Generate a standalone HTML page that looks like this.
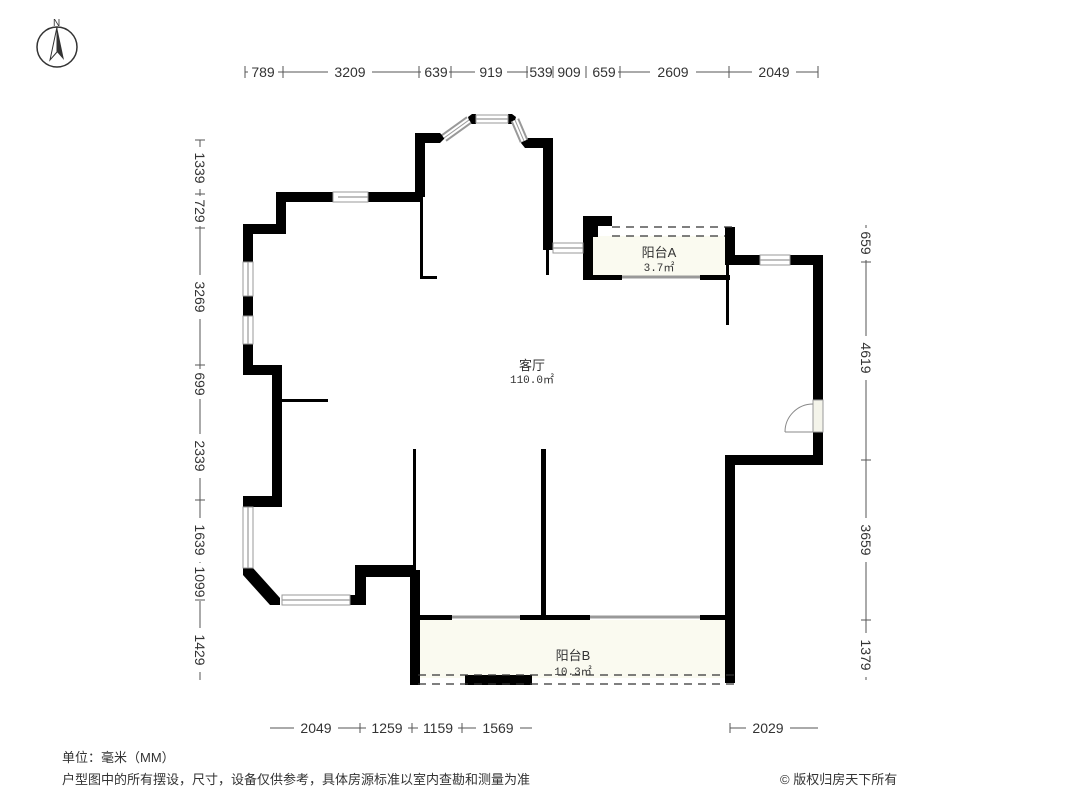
<!DOCTYPE html>
<html><head><meta charset="utf-8"><style>
body{margin:0;background:#fff;}
svg{display:block;font-family:"Liberation Sans","Noto Sans CJK SC",sans-serif;}
.d{font-size:14px;fill:#333;}
</style></head><body>
<svg width="1066" height="800" viewBox="0 0 1066 800" xmlns="http://www.w3.org/2000/svg">
<circle cx="57" cy="47" r="20" fill="none" stroke="#333" stroke-width="1.5"/>
<path d="M57 27 L50 60 L57 52 Z" fill="#fff" stroke="#333"/>
<path d="M57 27 L64 60 L57 52 Z" fill="#333"/>
<text x="53" y="26" font-size="10" fill="#333">N</text>

<rect x="593" y="236" width="132" height="42" fill="#fafaf0"/>
<rect x="420" y="620" width="305" height="58" fill="#fafaf0"/>

<g fill="#000">
<rect x="276" y="192" width="57" height="10"/><rect x="368" y="192" width="52" height="10"/>
<rect x="276" y="192" width="10" height="42"/>
<rect x="243" y="224" width="43" height="10"/>
<rect x="243" y="224" width="10" height="38"/><rect x="243" y="296" width="10" height="20"/><rect x="243" y="344" width="10" height="31"/>
<rect x="243" y="365" width="39" height="10"/>
<rect x="272" y="365" width="10" height="142"/>
<rect x="243" y="496" width="39" height="11"/>
<rect x="282" y="399" width="46" height="3"/>
<polygon points="243,568 253,568 280,598 280,605 270,605 243,575"/>
<rect x="350" y="595" width="16" height="10"/>
<rect x="355" y="565" width="11" height="40"/>
<rect x="355" y="565" width="58" height="12"/>
<rect x="413" y="449" width="3" height="122"/>
<rect x="410" y="570" width="10" height="115"/>
<rect x="415" y="133" width="10" height="64"/>
<polygon points="415,133 440,133 445,138 440,143 415,143"/>
<polygon points="468,117 472,114 476,114 476,124 470,124"/>
<polygon points="508,114 512,114 516,117 514,124 508,124"/>
<polygon points="521,143 524,138 553,138 553,148 525,148"/>
<rect x="543" y="138" width="10" height="112"/>
<rect x="546" y="250" width="3" height="25"/>
<rect x="420" y="197" width="3" height="82"/>
<rect x="420" y="276" width="17" height="3"/>
<rect x="583" y="216" width="29" height="10"/>
<rect x="583" y="216" width="10" height="64"/>
<rect x="593" y="226" width="5" height="11"/>
<rect x="725" y="227" width="10" height="38"/>
<rect x="583" y="275" width="39" height="5"/><rect x="700" y="275" width="30" height="5"/>
<rect x="726" y="265" width="3" height="60"/>
<rect x="725" y="255" width="35" height="10"/><rect x="790" y="255" width="33" height="10"/>
<rect x="813" y="255" width="10" height="145"/>
<rect x="813" y="432" width="10" height="33"/>
<rect x="725" y="455" width="98" height="10"/>
<rect x="725" y="455" width="10" height="228"/>
<rect x="541" y="449" width="5" height="169"/>
<rect x="420" y="615" width="32" height="5"/><rect x="520" y="615" width="70" height="5"/><rect x="700" y="615" width="26" height="5"/>
<rect x="465" y="675" width="67" height="10"/>
</g>
<g fill="#fff" stroke="#999" stroke-width="1">
<rect x="333" y="192" width="35" height="10"/>
<rect x="243" y="262" width="10" height="34"/><rect x="243" y="316" width="10" height="28"/>
<rect x="243" y="507" width="10" height="61"/>
<rect x="282" y="595" width="68" height="10"/>
<rect x="476" y="115" width="32" height="8"/>
<rect x="553" y="243" width="30" height="10"/>
<rect x="760" y="255" width="30" height="10"/>
<rect x="813" y="400" width="10" height="32" fill="#f4f4ea"/>
</g>
<g stroke="#999" stroke-width="1.2" fill="none">
<line x1="338" y1="197" x2="368" y2="197"/>
<line x1="248" y1="262" x2="248" y2="296"/><line x1="248" y1="316" x2="248" y2="344"/><line x1="248" y1="507" x2="248" y2="568"/>
<line x1="282" y1="600" x2="350" y2="600"/><line x1="476" y1="119" x2="508" y2="119"/>
<line x1="553" y1="248" x2="583" y2="248"/><line x1="760" y1="260" x2="790" y2="260"/>
</g>
<g stroke="#999" stroke-width="9">
<line x1="444" y1="138" x2="469" y2="120"/><line x1="515" y1="120" x2="524" y2="141"/>
</g>
<g stroke="#fff" stroke-width="5">
<line x1="444" y1="138" x2="469" y2="120"/><line x1="515" y1="120" x2="524" y2="141"/>
</g>
<g stroke="#999" stroke-width="1">
<line x1="444" y1="138" x2="469" y2="120"/><line x1="515" y1="120" x2="524" y2="141"/>
</g>
<g stroke="#999" stroke-width="3">
<line x1="622" y1="277" x2="700" y2="277"/>
<line x1="452" y1="617" x2="520" y2="617"/><line x1="590" y1="617" x2="700" y2="617"/>
</g>
<g stroke="#333" stroke-width="1.2" stroke-dasharray="8,6" fill="none">
<line x1="612" y1="227" x2="735" y2="227"/><line x1="612" y1="236" x2="725" y2="236"/>
<line x1="418" y1="675" x2="735" y2="675"/><line x1="418" y1="684" x2="735" y2="684"/>
</g>
<path d="M785 432 A28 28 0 0 1 813 404" fill="none" stroke="#888"/>
<line x1="785" y1="432" x2="813" y2="432" stroke="#888"/>

<g fill="#333" text-anchor="middle">
<text x="532" y="370" font-size="13">客厅</text>
<text x="532" y="383" font-size="11" font-family="Liberation Mono,monospace">110.0㎡</text>
<text x="659" y="257" font-size="13">阳台A</text>
<text x="659" y="271" font-size="11" font-family="Liberation Mono,monospace">3.7㎡</text>
<text x="573" y="660" font-size="13">阳台B</text>
<text x="573" y="675" font-size="11" font-family="Liberation Mono,monospace">10.3㎡</text>
</g>

<g stroke="#555" stroke-width="1">
<line x1="245" y1="72" x2="818" y2="72"/>
<line x1="200" y1="140" x2="200" y2="680"/>
<line x1="866" y1="225" x2="866" y2="680"/>
<line x1="270" y1="728" x2="532" y2="728"/><line x1="730" y1="728" x2="818" y2="728"/>
</g>
<rect x="248" y="64" width="30" height="16" fill="#fff"/><rect x="328" y="64" width="44" height="16" fill="#fff"/>
<rect x="421" y="64" width="28" height="16" fill="#fff"/><rect x="475" y="64" width="32" height="16" fill="#fff"/>
<rect x="528" y="64" width="90" height="16" fill="#fff"/><rect x="650" y="64" width="46" height="16" fill="#fff"/>
<rect x="752" y="64" width="44" height="16" fill="#fff"/>
<g stroke="#555">
<line x1="245" y1="66" x2="245" y2="78"/><line x1="283" y1="66" x2="283" y2="78"/><line x1="419" y1="66" x2="419" y2="78"/>
<line x1="451" y1="66" x2="451" y2="78"/><line x1="527" y1="66" x2="527" y2="78"/><line x1="553" y1="66" x2="553" y2="78"/>
<line x1="586" y1="66" x2="586" y2="78"/><line x1="620" y1="66" x2="620" y2="78"/><line x1="729" y1="66" x2="729" y2="78"/><line x1="818" y1="66" x2="818" y2="78"/>
</g>
<g class="d" text-anchor="middle">
<text x="263" y="77">789</text><text x="350" y="77">3209</text><text x="436" y="77">639</text><text x="491" y="77">919</text>
<text x="541" y="77">539</text><text x="569" y="77">909</text><text x="604" y="77">659</text><text x="673" y="77">2609</text><text x="774" y="77">2049</text>
</g>
<g fill="#fff">
<rect x="192" y="147" width="16" height="42"/><rect x="192" y="196" width="16" height="30"/><rect x="192" y="275" width="16" height="44"/>
<rect x="192" y="369" width="16" height="30"/><rect x="192" y="434" width="16" height="44"/><rect x="192" y="518" width="16" height="44"/>
<rect x="192" y="563" width="16" height="38"/><rect x="192" y="628" width="16" height="44"/>
</g>
<g stroke="#555">
<line x1="195" y1="140" x2="205" y2="140"/><line x1="195" y1="194" x2="205" y2="194"/><line x1="195" y1="228" x2="205" y2="228"/>
<line x1="195" y1="365" x2="205" y2="365"/><line x1="195" y1="500" x2="205" y2="500"/><line x1="195" y1="600" x2="205" y2="600"/>
<line x1="861" y1="262" x2="871" y2="262"/><line x1="861" y1="460" x2="871" y2="460"/><line x1="861" y1="620" x2="871" y2="620"/>
<line x1="360" y1="723" x2="360" y2="733"/><line x1="412" y1="723" x2="412" y2="733"/><line x1="462" y1="723" x2="462" y2="733"/><line x1="730" y1="723" x2="730" y2="733"/>
</g>
<g class="d" text-anchor="middle">
<text transform="translate(195,168) rotate(90)">1339</text><text transform="translate(195,211) rotate(90)">729</text>
<text transform="translate(195,297) rotate(90)">3269</text><text transform="translate(195,384) rotate(90)">699</text>
<text transform="translate(195,456) rotate(90)">2339</text><text transform="translate(195,540) rotate(90)">1639</text>
<text transform="translate(195,582) rotate(90)">1099</text><text transform="translate(195,650) rotate(90)">1429</text>
</g>
<g fill="#fff">
<rect x="858" y="228" width="16" height="32"/><rect x="858" y="336" width="16" height="44"/>
<rect x="858" y="518" width="16" height="44"/><rect x="858" y="633" width="16" height="44"/>
</g>
<g class="d" text-anchor="middle">
<text transform="translate(861,243) rotate(90)">659</text><text transform="translate(861,358) rotate(90)">4619</text>
<text transform="translate(861,540) rotate(90)">3659</text><text transform="translate(861,655) rotate(90)">1379</text>
</g>
<g fill="#fff">
<rect x="294" y="720" width="44" height="16"/><rect x="366" y="720" width="42" height="16"/><rect x="418" y="720" width="40" height="16"/>
<rect x="476" y="720" width="44" height="16"/><rect x="746" y="720" width="44" height="16"/>
</g>
<g class="d" text-anchor="middle">
<text x="316" y="733">2049</text><text x="387" y="733">1259</text><text x="438" y="733">1159</text><text x="498" y="733">1569</text><text x="768" y="733">2029</text>
</g>
<g font-size="13" fill="#333">
<text x="62" y="762">单位：毫米（MM）</text>
<text x="62" y="784">户型图中的所有摆设，尺寸，设备仅供参考，具体房源标准以室内查勘和测量为准</text>
<text x="780" y="784">© 版权归房天下所有</text>
</g>
</svg>
</body></html>
